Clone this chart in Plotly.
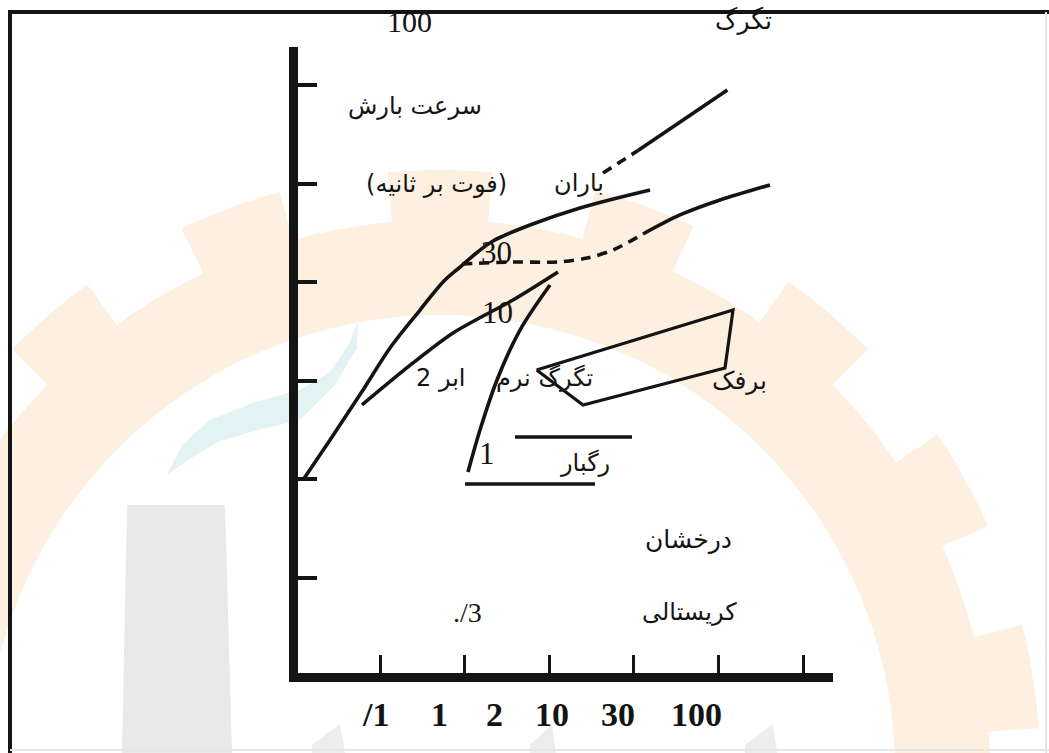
import numpy as np
import plotly.graph_objects as go

# ---- curves, in axis units (x: size scale, y: fall-speed scale) ----
rain_x = [0.090, 0.409, 0.799, 1.118, 1.473, 1.745, 1.946, 2.154, 2.336, 2.773, 3.364, 4.192]
rain_y = [1.994, 2.400, 2.907, 3.333, 3.718, 4.002, 4.154, 4.306, 4.418, 4.580, 4.753, 4.935]

graupel_dash_x = [1.970, 2.572, 3.104, 3.447, 3.754, 4.109]
graupel_dash_y = [4.185, 4.205, 4.205, 4.245, 4.327, 4.489]
graupel_solid_x = [4.109, 4.546, 5.019, 5.610]
graupel_solid_y = [4.489, 4.682, 4.834, 4.986]

hail_dash_x = [3.636, 4.050]
hail_dash_y = [5.107, 5.336]
hail_solid_x = [4.050, 5.106]
hail_solid_y = [5.336, 5.950]

cloud_x = [0.787, 1.390, 1.863, 2.241, 2.572, 3.104]
cloud_y = [2.755, 3.181, 3.485, 3.667, 3.819, 4.103]

drizzle_x = [2.040, 2.182, 2.383, 2.655, 3.009]
drizzle_y = [2.075, 2.501, 3.008, 3.515, 3.971]

snow_x = [2.851, 3.400, 5.078, 5.173, 2.851]
snow_y = [3.110, 2.755, 3.130, 3.718, 3.110]

shower_top_x = [2.596, 3.979]
shower_top_y = [2.430, 2.430]
shower_bot_x = [2.005, 3.542]
shower_bot_y = [1.953, 1.953]

x_ticks = [1, 2, 3, 4, 5, 6]
y_ticks = [1, 2, 3, 4, 5, 6]
bottom_labels = ["/1", "1", "2", "10", "30", "100"]
bottom_label_x = [0.941, 1.709, 2.359, 3.033, 3.813, 4.747]

INK = "#141414"
SERIF = "Liberation Serif"
FA = "DejaVu Sans"

W, H = 1049, 753
ML, MR, MT, MB = 298, 216, 47, 80
PW, PH = W - ML - MR, H - MT - MB

# axis units -> pixels: x = 295.4 + 84.6*u, y = 676.6 - 98.6*v
X0, XS, Y0, YS = 295.4, 84.6, 676.6, 98.6
x_range = [(ML - X0) / XS, (W - MR - X0) / XS]
y_range = [(Y0 - (H - MB)) / YS, (Y0 - MT) / YS]


def px(x):
    return (x - ML) / PW


def py(y):
    return (H - MB - y) / PH


def ux(u):
    return (u - x_range[0]) / (x_range[1] - x_range[0])


def uy(v):
    return (v - y_range[0]) / (y_range[1] - y_range[0])


def poly_path(points):
    return "M " + " L ".join(f"{px(a):.4f},{py(b):.4f}" for a, b in points) + " Z"


def gear_path(cx, cy, r_in, r_base, r_tip, first, pitch, width):
    outer = []
    for deg in np.arange(0.0, 360.0, 0.5):
        rel = (deg - first + width / 2) % pitch
        r = r_tip if rel < width else r_base
        if outer and outer[-1][2] != r:
            prev = outer[-1][2]
            outer.append((cx + prev * np.cos(np.radians(deg)), cy - prev * np.sin(np.radians(deg)), prev))
        outer.append((cx + r * np.cos(np.radians(deg)), cy - r * np.sin(np.radians(deg)), r))
    inner = [(cx + r_in * np.cos(np.radians(d)), cy - r_in * np.sin(np.radians(d)))
             for d in np.arange(360.0, 0.0, -2.0)]
    return poly_path([(a, b) for a, b, _ in outer]) + " " + poly_path(inner)


fig = go.Figure()


def add_line(xs, ys, dash="solid", smooth=True, width=3.6):
    fig.add_trace(go.Scatter(
        x=xs, y=ys, mode="lines", showlegend=False, hoverinfo="skip",
        line=dict(color=INK, width=width, dash=dash,
                  shape="spline" if smooth else "linear", smoothing=0.9),
    ))


add_line(rain_x, rain_y)
add_line(graupel_dash_x, graupel_dash_y, dash="10px,7px")
add_line(graupel_solid_x, graupel_solid_y)
add_line(hail_dash_x, hail_dash_y, dash="10px,7px", smooth=False)
add_line(hail_solid_x, hail_solid_y, smooth=False)
add_line(cloud_x, cloud_y)
add_line(drizzle_x, drizzle_y)
add_line(snow_x, snow_y, smooth=False, width=3.2)
add_line(shower_top_x, shower_top_y, smooth=False)
add_line(shower_bot_x, shower_bot_y, smooth=False)

# ---- faint logo in the background ----
shapes = [
    dict(type="path", xref="paper", yref="paper", layer="below", line=dict(width=0),
         fillcolor="#FDF0E0",
         path=gear_path(440, 770, 455, 550, 600, 8.7, 20.3, 10.0)),
    dict(type="path", xref="paper", yref="paper", layer="below", line=dict(width=0),
         fillcolor="#E3F3F3",
         path=poly_path([(167, 475), (182, 445), (210, 420), (255, 402), (300, 390),
                         (330, 372), (350, 342), (358, 320), (357, 348), (335, 385),
                         (300, 420), (258, 430), (218, 442), (188, 460)])),
    dict(type="path", xref="paper", yref="paper", layer="below", line=dict(width=0),
         fillcolor="#E9E9E9",
         path=poly_path([(127, 505), (225, 505), (232, 753), (122, 753)])),
    dict(type="path", xref="paper", yref="paper", layer="below", line=dict(width=0),
         fillcolor="#EDEDED",
         path=poly_path([(312, 745), (340, 724), (345, 753), (312, 753)])),
    dict(type="path", xref="paper", yref="paper", layer="below", line=dict(width=0),
         fillcolor="#EDEDED",
         path=poly_path([(530, 745), (552, 724), (556, 753), (530, 753)])),
    dict(type="path", xref="paper", yref="paper", layer="below", line=dict(width=0),
         fillcolor="#EDEDED",
         path=poly_path([(745, 745), (773, 724), (777, 753), (745, 753)])),
    # page frame
    dict(type="line", xref="paper", yref="paper", x0=px(8), x1=px(1049), y0=py(12), y1=py(12),
         line=dict(color=INK, width=4)),
    dict(type="line", xref="paper", yref="paper", x0=px(10), x1=px(10), y0=py(10), y1=py(753),
         line=dict(color=INK, width=4)),
    dict(type="line", xref="paper", yref="paper", x0=px(1046), x1=px(1046), y0=py(12), y1=py(753),
         line=dict(color="#E4E4E4", width=2)),
    dict(type="line", xref="paper", yref="paper", x0=px(10), x1=px(1049), y0=py(750), y1=py(750),
         line=dict(color="#E6E6E6", width=2)),
]

# ---- labels (positions in axis units; placed through paper coords so that
#      labels outside the axis ranges are still drawn) ----
labels = [
    ("100", 1.343, 6.639, SERIF, 30),
    ("تگرگ", 5.302, 6.650, FA, 25),
    ("سرعت بارش", 1.413, 5.787, FA, 24),
    ("(فوت بر ثانیه)", 1.662, 5.000, FA, 24),
    ("باران", 3.352, 5.010, FA, 24),
    ("30", 2.382, 4.306, SERIF, 31),
    ("10", 2.394, 3.688, SERIF, 31),
    ("2 ابر", 1.721, 3.028, FA, 24),
    ("تگرگ نرم", 2.939, 3.028, FA, 24),
    ("برفک", 5.255, 3.008, FA, 25),
    ("1", 2.265, 2.267, SERIF, 31),
    ("رگبار", 3.423, 2.166, FA, 24),
    ("درخشان", 4.652, 1.386, FA, 25),
    ("کریستالی", 4.664, 0.655, FA, 24),
    ("./3", 2.037, 0.655, SERIF, 28),
]
annotations = [
    dict(x=ux(x), y=uy(y), xref="paper", yref="paper", text=t, showarrow=False,
         font=dict(family=f, size=s, color=INK), xanchor="center", yanchor="middle")
    for t, x, y, f, s in labels
]
for t, x in zip(bottom_labels, bottom_label_x):
    annotations.append(dict(x=ux(x), y=uy(-0.389), xref="paper", yref="paper", text=f"<b>{t}</b>",
                            showarrow=False, xanchor="center", yanchor="middle",
                            font=dict(family=SERIF, size=34, color=INK)))

axis_common = dict(showline=True, linecolor=INK, linewidth=9, ticks="inside",
                   tickcolor=INK, showticklabels=False, showgrid=False,
                   zeroline=False, fixedrange=True)

fig.update_layout(
    width=W, height=H,
    margin=dict(l=ML, r=MR, t=MT, b=MB, pad=0),
    paper_bgcolor="white", plot_bgcolor="rgba(0,0,0,0)",
    xaxis=dict(range=x_range, tickvals=x_ticks, ticklen=18, tickwidth=2.5, **axis_common),
    yaxis=dict(range=y_range, tickvals=y_ticks, ticklen=19, tickwidth=4, **axis_common),
    shapes=shapes,
    annotations=annotations,
)

fig.write_html("out.html")
